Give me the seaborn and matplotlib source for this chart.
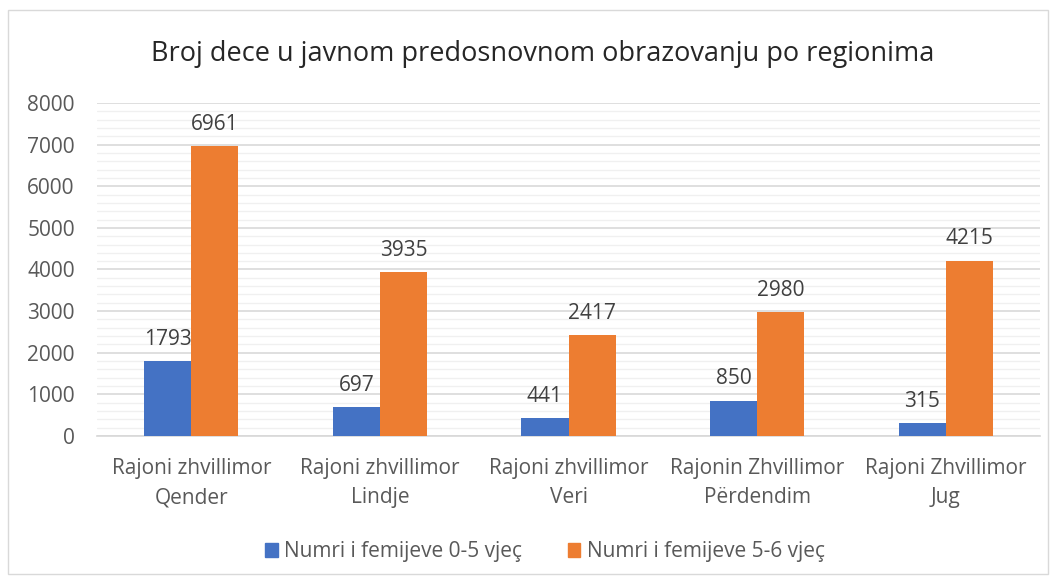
import matplotlib.pyplot as plt
import matplotlib.patches as mpatches
from matplotlib.ticker import MultipleLocator
import seaborn as sns
import pandas as pd

regions = ["Rajoni zhvillimor\nQender", "Rajoni zhvillimor\nLindje", "Rajoni zhvillimor\nVeri",
           "Rajonin Zhvillimor\nPërdendim", "Rajoni Zhvillimor\nJug"]
series_names = ["Numri i femijeve 0-5 vjeç", "Numri i femijeve 5-6 vjeç"]
values_0_5 = [1793, 697, 441, 850, 315]
values_5_6 = [6961, 3935, 2417, 2980, 4215]
colors = ["#4472C4", "#ED7D31"]

df = pd.DataFrame({
    "region": regions * 2,
    "series": [series_names[0]] * 5 + [series_names[1]] * 5,
    "value": values_0_5 + values_5_6,
})

sns.set_theme(style="white")
plt.rcParams["font.family"] = ["Open Sans", "DejaVu Sans"]

fig = plt.figure(figsize=(10.58, 5.81), dpi=100)
ax = fig.add_axes([0.0917, 0.2496, 0.8913, 0.5731])

sns.barplot(data=df, x="region", y="value", hue="series", palette=colors,
            width=0.5, gap=0, saturation=1, linewidth=0, edgecolor="none",
            ax=ax, legend=False, zorder=3)

for c in ax.containers:
    ax.bar_label(c, padding=8, fontsize=15, color="#404040")

ax.set_ylim(0, 8000)
ax.set_xlim(-0.5, 4.5)
ax.yaxis.set_major_locator(MultipleLocator(1000))
ax.yaxis.set_minor_locator(MultipleLocator(200))
ax.grid(axis="y", which="major", color="#d9d9d9", linewidth=1.2, zorder=0)
ax.grid(axis="y", which="minor", color="#f0f0f0", linewidth=1.0, zorder=0)
ax.set_axisbelow(True)
for s in ["top", "right", "left"]:
    ax.spines[s].set_visible(False)
ax.spines["bottom"].set_color("#d9d9d9")
ax.tick_params(axis="y", which="both", length=0, labelsize=15, labelcolor="#595959", pad=16)
ax.tick_params(axis="x", length=0, labelsize=15, labelcolor="#595959", pad=16)
for lbl in ax.get_xticklabels():
    lbl.set_linespacing(1.5)
ax.set_xlabel("")
ax.set_ylabel("")

fig.text(0.513, 0.907, "Broj dece u javnom predosnovnom obrazovanju po regionima",
         ha="center", va="center", fontsize=19.5, color="#262626")

handles = [mpatches.Patch(color=colors[i], label=series_names[i]) for i in range(2)]
fig.legend(handles=handles, loc="center", bbox_to_anchor=(0.515, 0.05), ncol=2, frameon=False,
           fontsize=15, labelcolor="#595959", handlelength=0.6, handleheight=0.6,
           handletextpad=0.3, columnspacing=2.2)

fig.patches.append(mpatches.Rectangle((0.008, 0.012), 0.983, 0.97, transform=fig.transFigure,
                                      fill=False, edgecolor="#d9d9d9", linewidth=1))

fig.savefig("out.png", dpi=100)
